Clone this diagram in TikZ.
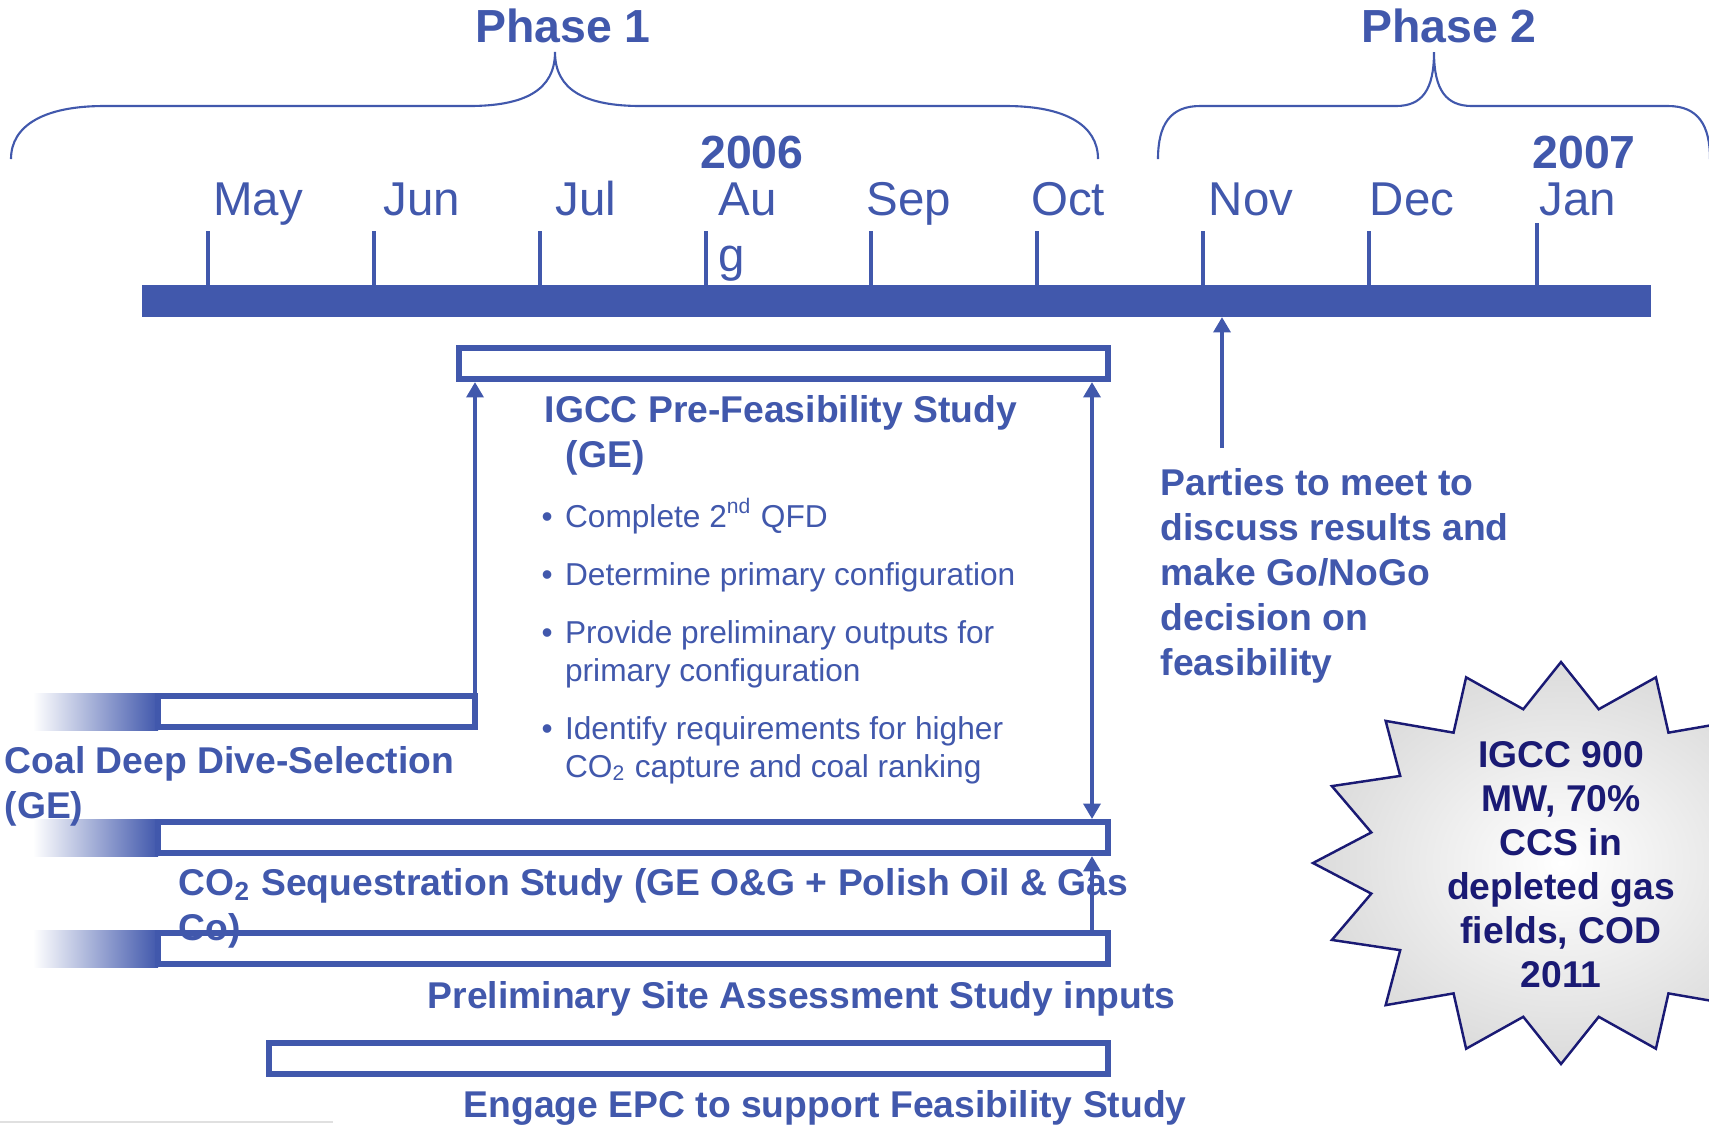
\documentclass[tikz,border=0pt]{standalone}
\usepackage{fontspec}
\setmainfont{Liberation Sans}
\usetikzlibrary{arrows.meta}

\definecolor{tlblue}{RGB}{65,88,172}
\definecolor{starnavy}{RGB}{26,26,116}

% lines of a label, first baseline on the node's base
\newcommand{\stacklines}[2][l]{\begin{tabular}[t]{@{}#1@{}}#2\end{tabular}}

\tikzset{
  >={Triangle[width=4.8pt,length=4.4pt]},
  taskbox/.style={draw=tlblue, line width=1.7pt},
  fadebar/.style={left color=white, right color=tlblue},
  link/.style={draw=tlblue, line width=1.4pt},
  tick/.style={draw=tlblue, line width=1.2pt},
  brace/.style={draw=tlblue, line width=0.6pt},
  phaselbl/.style={text=tlblue, font=\fontsize{13.2}{15.8}\selectfont\bfseries, inner sep=0pt, anchor=base},
  monthlbl/.style={text=tlblue, font=\fontsize{13.5}{16.2}\selectfont, inner sep=0pt, anchor=base},
  tasklbl/.style={text=tlblue, font=\fontsize{10.6}{12.8}\selectfont\bfseries, inner sep=0pt, anchor=base west},
  itemlbl/.style={text=tlblue, font=\fontsize{9}{10.8}\selectfont, inner sep=0pt, anchor=base west},
  startxt/.style={text=starnavy, font=\fontsize{10.6}{12.55}\selectfont\bfseries, inner sep=0pt, anchor=base},
  starfill/.style={inner color=white, outer color=black!14, draw=starnavy, line width=0.7pt}
}

\begin{document}
\begin{tikzpicture}[x=0.01cm, y=-0.01cm]

\useasboundingbox (0,0) rectangle (1709,1126);

% Phase braces
\draw[brace] (11,159) .. controls (11,125) and (45,106) .. (104,106) -- (469,106)
  .. controls (525,106) and (555,90) .. (555,52)
  .. controls (555,90) and (585,106) .. (641,106) -- (1006,106)
  .. controls (1065,106) and (1098,125) .. (1098,159);
\draw[brace] (1158,159) .. controls (1158,125) and (1170,106) .. (1200,106) -- (1396,106)
  .. controls (1422,106) and (1434,90) .. (1434,52)
  .. controls (1434,90) and (1446,106) .. (1472,106) -- (1668,106)
  .. controls (1698,106) and (1710,125) .. (1710,159);
\node[phaselbl] (phase1) at (563,42) {Phase 1};
\node[phaselbl] (phase2) at (1449,42) {Phase 2};

% Years
\node[phaselbl] (y2006) at (752,168) {2006};
\node[phaselbl] (y2007) at (1584,168) {2007};

% Timeline bar and month ticks
\fill[tlblue] (142,285) rectangle (1651,317);
\foreach \x/\t in {208/231,374/231,540/231,706/231,871/231,1037/231,1203/231,1369/231,1537/223}
  \draw[tick] (\x,\t) -- (\x,286);

% Month labels
\foreach \m/\x in {May/258,Jun/422,Jul/586,Sep/909,Oct/1068,Nov/1251,Dec/1412,Jan/1578}
  \node[monthlbl] (m-\m) at (\x,215) {\m};
\node[monthlbl, anchor=base west] (m-Aug) at (718,215) {\stacklines{Au\\g}};

% Task boxes with faded lead-ins
\foreach \y in {693,819,930}
  \shade[fadebar] (33,\y) rectangle (158,\y+37);
\draw[taskbox] (459,348) rectangle (1108,379);
\draw[taskbox] (158,696) rectangle (475,727);
\draw[taskbox] (158,822) rectangle (1108,853);
\draw[taskbox] (158,933) rectangle (1108,964);
\draw[taskbox] (269,1043) rectangle (1108,1074);

% Arrow ends
\coordinate (coal-top) at (475,696);
\coordinate (pfs-left) at (475,382);
\coordinate (pfs-right) at (1092,382);
\coordinate (co2-top) at (1092,819);
\coordinate (co2-bot) at (1092,856);
\coordinate (site-top) at (1092,930);
\coordinate (nov-foot) at (1222,448);
\coordinate (nov-head) at (1222,317);

% Arrows
\draw[link, ->] (coal-top) -- (pfs-left);
\draw[link, <->] (pfs-right) -- (co2-top);
\draw[link, ->] (site-top) -- (co2-bot);
\draw[link, ->] (nov-foot) -- (nov-head);

% Task labels
\node[tasklbl] (pfs-lbl) at (544,422) {\stacklines{IGCC Pre-Feasibility Study\\\hspace*{6pt}(GE)}};
\node[itemlbl] (pfs-items) at (541,527) {\begin{tabular}[t]{@{}l@{\hspace{3.5pt}}l@{}}
  \textbullet & Complete 2\textsuperscript{nd} QFD\\[5.7pt]
  \textbullet & Determine primary configuration\\[5.7pt]
  \textbullet & Provide preliminary outputs for\\
              & primary configuration\\[5.7pt]
  \textbullet & Identify requirements for higher\\
              & CO\textsubscript{2} capture and coal ranking
\end{tabular}};
\node[tasklbl] (coal-lbl) at (4,773) {\stacklines{Coal Deep Dive-Selection\\(GE)}};
\node[tasklbl] (co2-lbl) at (178,895) {\stacklines{CO\textsubscript{2} Sequestration Study (GE O\&G + Polish Oil \& Gas\\Co)}};
\node[tasklbl] (site-lbl) at (427,1008) {Preliminary Site Assessment Study inputs};
\node[tasklbl] (epc-lbl) at (463,1117) {Engage EPC to support Feasibility Study};
\node[tasklbl] (nov-lbl) at (1160,495) {\stacklines{Parties to meet to\\discuss results and\\make Go/NoGo\\decision on\\feasibility}};

% Starburst
\begin{scope}[shift={(1561,863)}]
  \shadedraw[starfill] (90:248 and 201)
    \foreach \a in {0,22.5,...,337.5} {
      -- ({\a+101.25}:193.4 and 156.8) -- ({\a+112.5}:248 and 201)
    } -- cycle;
\end{scope}
\node[startxt] (star-lbl) at (1561,767) {\stacklines[c]{IGCC 900\\MW, 70\%\\CCS in\\depleted gas\\fields, COD\\2011}};

% Grey rule
\draw[black!12, line width=0.6pt] (0,1122) -- (333,1122);

\end{tikzpicture}
\end{document}
